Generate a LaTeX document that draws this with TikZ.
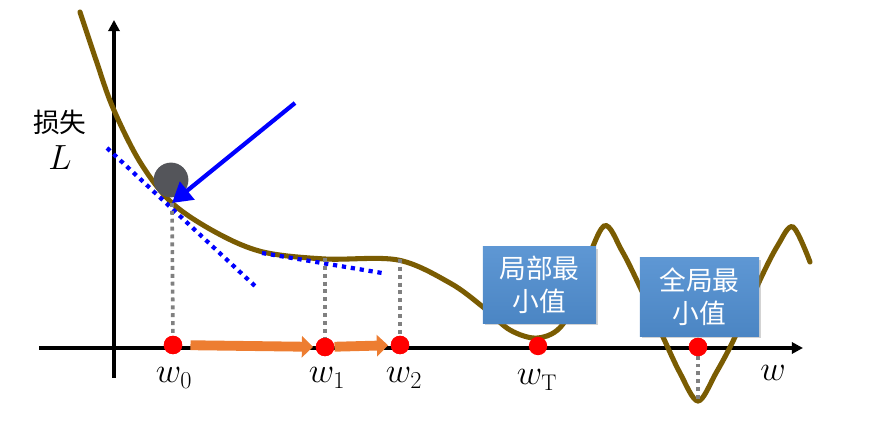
\documentclass[tikz,border=0pt]{standalone}
\usepackage{fontspec}
\newfontfamily\cjkfont{Noto Sans CJK SC}
\usetikzlibrary{arrows.meta,shadows,positioning}
\definecolor{curvebrown}{RGB}{122,92,2}
\definecolor{boxblue}{RGB}{80,142,208}
\definecolor{steporange}{RGB}{237,125,49}
\definecolor{ballgray}{RGB}{84,85,90}
\definecolor{dropgray}{RGB}{128,128,128}

\tikzset{
  axis/.style={line width=2.6pt,-{Triangle[length=8pt,width=8pt]}},
  wdot/.style={circle,fill=red,inner sep=0pt,minimum size=0.46cm},
  wlabel/.style={font=\fontsize{23}{26}\selectfont},
  dropline/.style={dropgray,line width=2.6pt,dash pattern=on 2.8pt off 2.8pt},
  tangent/.style={blue,line width=3pt,dash pattern=on 3pt off 3.4pt},
  stepline/.style={steporange,line width=7pt,-{Triangle[length=8pt,width=15pt]}},
  minbox/.style={top color=boxblue!92!white,bottom color=boxblue!94!black,
    drop shadow={opacity=0.35,shadow xshift=1.2pt,shadow yshift=-1.2pt},
    text=white,align=center,inner sep=0pt,
    font=\cjkfont\fontsize{19}{23.5}\selectfont}
}

\begin{document}
\begin{tikzpicture}[x=0.025cm,y=-0.025cm]
\useasboundingbox (0,0) rectangle (884,431);
% axes
\draw[axis] (39,348) -- (803,348);
\draw[axis] (114,378) -- (114,20);
\node (loss) at (60,122) {\cjkfont\fontsize{19}{23}\selectfont 损失};
\node (lossL) at (60,158) {\fontsize{23}{26}\selectfont $L$};
% loss curve
\draw[curvebrown,line width=3.6pt,line cap=round] plot[smooth,tension=0.55] coordinates {
  (80,12) (96,60) (113,108) (140,162) (172,203) (217,233) (263,252)
  (325,259) (398,260) (450,283) (483,307) (510,330) (538,338) (563,324)
  (582,275) (604,226) (622,251) (640,287) (663,337) (680,373) (698,401)
  (716,373) (735,337) (760,280) (778,245) (793,227) (810,262)};
% tangents
\draw[tangent] (107,148) -- (255,286);
\draw[tangent] (262,253) -- (382,273);
% points on the curve
\coordinate (touch) at (172,203);
\coordinate (c1) at (325,258);
\coordinate (c2) at (400,259);
\coordinate (gmin) at (698,399);
\node[wdot] (w0) at (173,345) {};
\node[wdot] (w1) at (325,347) {};
\node[wdot] (w2) at (400,345) {};
\node[wdot] (wT) at (538,346) {};
\node[wdot] (wG) at (698,347) {};
\draw[dropline] (touch) -- (w0.center);
\draw[dropline] (c1) -- (w1.center);
\draw[dropline] (c2) -- (w2.center);
\draw[dropline] (gmin) -- (wG.center);
\node[wdot] at (w0) {};
\node[wdot] at (w1) {};
\node[wdot] at (w2) {};
\node[wdot] at (wG) {};
% labels
\node[wlabel] (lw0) at (174,378) {$w_0$};
\node[wlabel] (lw1) at (327,378) {$w_1$};
\node[wlabel] (lw2) at (404,378) {$w_2$};
\node[wlabel] (lwT) at (537,380) {$w_{\mathrm{T}}$};
\node[wlabel] (lw) at (773,373) {$w$};
% steps
\draw[stepline,shorten <=0.2cm,shorten >=0.06cm] (w0) -- (w1);
\draw[stepline,shorten <=0cm,shorten >=0.06cm] (w1) -- (w2);
% ball and push
\node[circle,fill=ballgray,inner sep=0pt,minimum size=0.87cm] (ball) at (171,180) {};
\coordinate (push) at (295,103);
\draw[blue,line width=3pt,-{Triangle[length=14pt,width=16pt]}] (push) -- (touch);
% boxes
\node[minbox,minimum width=2.83cm,minimum height=1.9cm] (local) at (539.5,285) {局部最\\小值};
\node[minbox,minimum width=2.98cm,minimum height=1.95cm] (global) at (699.5,297) {全局最\\小值};
\end{tikzpicture}
\end{document}
